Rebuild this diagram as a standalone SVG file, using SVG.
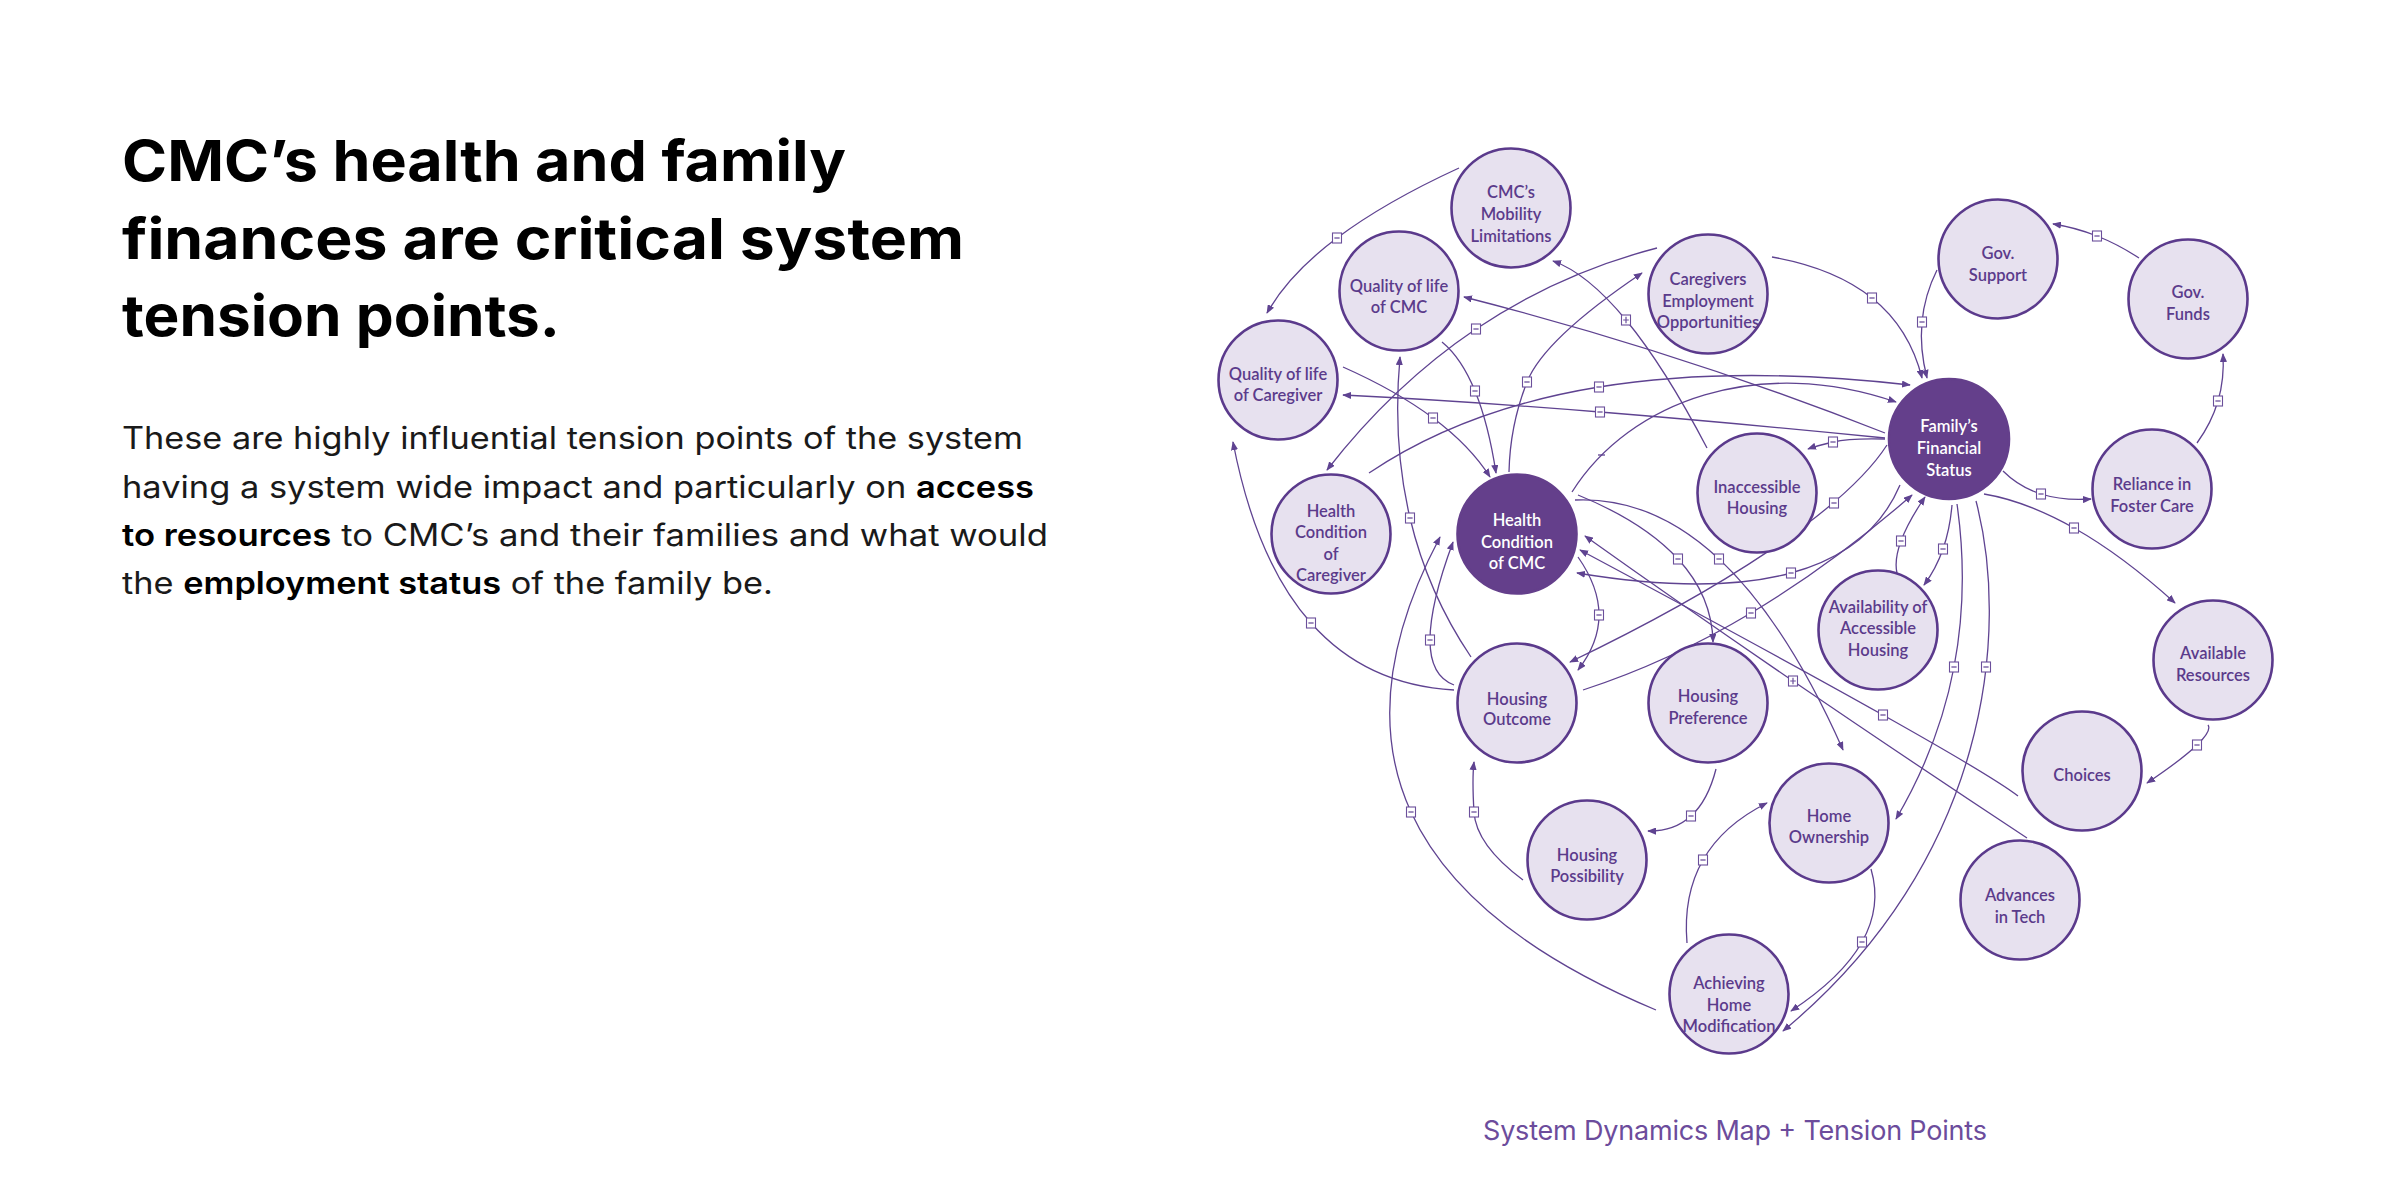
<svg xmlns="http://www.w3.org/2000/svg" width="2400" height="1200" viewBox="0 0 2400 1200">
<style>
.title{font-family:Inter,"Liberation Sans",sans-serif;font-weight:700;font-size:57px;fill:#000}
.body{font-family:Inter,"Liberation Sans",sans-serif;font-weight:400;font-size:31px;fill:#1a1a1a}
.b{font-weight:600;fill:#000}
.cap{font-family:Inter,"Liberation Sans",sans-serif;font-weight:400;font-size:27px;fill:#6c4c9c}
.edge{fill:none;stroke:#5f4391;stroke-width:1.3;marker-end:url(#ah)}
.plain{fill:none;stroke:#5f4391;stroke-width:1.3}
.node{fill:#e7e1ef;stroke:#5b3a8c;stroke-width:2.6}
.dark{fill:#643f8b;stroke:#643f8b;stroke-width:2.6}
.lbl{font-family:Lato,"Open Sans",sans-serif;font-weight:600;font-size:16.5px;fill:#5b3b8b;text-anchor:middle}
.lblw{font-family:Lato,"Open Sans",sans-serif;font-weight:600;font-size:16.5px;fill:#ffffff;text-anchor:middle}
</style>
<defs>
<marker id="ah" viewBox="0 0 10 8" refX="9" refY="4" markerWidth="9" markerHeight="7.2" markerUnits="userSpaceOnUse" orient="auto"><path d="M0,0 L10,4 L0,8 z" fill="#5f4391"/></marker>
<g id="neg"><rect x="-4.5" y="-5" width="9" height="10" fill="#fff" stroke="#6b4f9b" stroke-width="1.1"/><path d="M-2.6,0 H2.6" stroke="#6b4f9b" stroke-width="1.3"/></g>
<g id="pos"><rect x="-4.5" y="-5" width="9" height="10" fill="#fff" stroke="#6b4f9b" stroke-width="1.1"/><path d="M-2.8,0 H2.8 M0,-3.2 V3.2" stroke="#6b4f9b" stroke-width="1.2"/></g>
</defs>
<rect width="2400" height="1200" fill="#fff"/>

<g id="heading">
<text class="title" x="122" y="181" textLength="724" lengthAdjust="spacingAndGlyphs">CMC’s health and family</text>
<text class="title" x="122" y="259" textLength="842" lengthAdjust="spacingAndGlyphs">finances are critical system</text>
<text class="title" x="122" y="336" textLength="438" lengthAdjust="spacingAndGlyphs">tension points.</text>
</g>
<g id="description">
<text class="body" x="122" y="449" textLength="901" lengthAdjust="spacingAndGlyphs">These are highly influential tension points of the system</text>
<text class="body" x="122" y="497.5" textLength="912" lengthAdjust="spacingAndGlyphs">having a system wide impact and particularly on <tspan class="b">access</tspan></text>
<text class="body" x="122" y="546" textLength="926" lengthAdjust="spacingAndGlyphs"><tspan class="b">to resources</tspan> to CMC’s and their families and what would</text>
<text class="body" x="122" y="594" textLength="651" lengthAdjust="spacingAndGlyphs">the <tspan class="b">employment status</tspan> of the family be.</text>
</g>

<g id="connectors">
<path class="edge" d="M1459,168 Q1385,202 1337,238 T1267,313"/>
<path class="edge" d="M1657,248 Q1558.5,273.5 1476,329 T1327,470"/>
<path class="edge" d="M1509,472 Q1510,425 1527,382 T1642,273"/>
<path class="edge" d="M1707,448 Q1664.5,366.75 1626,320 T1553,261"/>
<path class="edge" d="M1885,433 Q1680,352 1464,297"/>
<path class="edge" d="M1343,367 Q1396,390.5 1433,418 T1490,477"/>
<path class="edge" d="M1442,342 Q1461.5,358 1475,391 T1496,473"/>
<path class="edge" d="M1885,438 Q1735.5,423 1600,412 T1343,395"/>
<path class="edge" d="M1369,473 Q1464,409 1599,387 T1910,385"/>
<path class="edge" d="M1572,492 C1630,400 1760,355 1896,402"/>
<path class="edge" d="M1471,657 Q1427.75,593 1410,518 T1400,357"/>
<path class="edge" d="M1454,690 Q1366,685 1311,623 T1233,442"/>
<path class="edge" d="M1454,685 Q1430,676 1430,640 T1453,542"/>
<path class="edge" d="M1656,1010 Q1465,930 1411,812 T1440,537"/>
<path class="edge" d="M1523,880 Q1476,845 1474,812 T1474,762"/>
<path class="edge" d="M1578,557 Q1599,587 1599,615 T1578,670"/>
<path class="edge" d="M1887,445 C1845,510 1720,590 1570,662"/>
<path class="edge" d="M1583,690 Q1669,662 1751,613 T1912,495"/>
<path class="edge" d="M1900,485 Q1872,551 1791,573 T1577,573"/>
<path class="edge" d="M1578,495 Q1644,522 1678,559 T1713,642"/>
<path class="edge" d="M1575,500 Q1652,496.5 1719,559 T1843,750"/>
<path class="edge" d="M2027,838 Q1903.5,756.5 1793,681 T1585,536"/>
<path class="edge" d="M2018,796 Q1992.5,776.5 1883,715 T1580,550"/>
<path class="edge" d="M1885,439 Q1850,438 1833,442 T1808,449"/>
<path class="edge" d="M1772,257 Q1834.5,268 1872,298 T1922,378"/>
<path class="edge" d="M1937,270 Q1924.5,295 1922,322 T1927,378"/>
<path class="edge" d="M2003,471 Q2019,487 2041,494 T2091,499"/>
<path class="edge" d="M1984,494 Q2026,501 2074,528 T2175,603"/>
<path class="edge" d="M1897,573 Q1894,560 1901,541 T1925,497"/>
<path class="edge" d="M1952,505 Q1950,529 1943,549 T1924,585"/>
<path class="edge" d="M1957,504 Q1969,588 1954,667 T1896,819"/>
<path class="edge" d="M1976,501 C2010,630 1990,860 1783,1031"/>
<path class="edge" d="M1871,869 Q1882,906.5 1862,942 T1791,1011"/>
<path class="edge" d="M1687,943 Q1683,895 1703,860 T1767,803"/>
<path class="edge" d="M1716,769 Q1708,800.5 1691,816 T1648,831"/>
<path class="edge" d="M2208,725 Q2212,730.5 2197,745 T2147,783"/>
<path class="edge" d="M2197,443 Q2211.5,423 2218,401 T2223,354"/>
<path class="edge" d="M2139,258 Q2118.5,244.5 2097,236 T2053,224"/>
<path class="plain" d="M1598,455 H1605"/>
<use href="#neg" x="1337" y="238"/>
<use href="#neg" x="1476" y="329"/>
<use href="#neg" x="1527" y="382"/>
<use href="#pos" x="1626" y="320"/>
<use href="#neg" x="1433" y="418"/>
<use href="#neg" x="1475" y="391"/>
<use href="#neg" x="1600" y="412"/>
<use href="#neg" x="1599" y="387"/>
<use href="#neg" x="1410" y="518"/>
<use href="#neg" x="1311" y="623"/>
<use href="#neg" x="1430" y="640"/>
<use href="#neg" x="1411" y="812"/>
<use href="#neg" x="1474" y="812"/>
<use href="#neg" x="1599" y="615"/>
<use href="#neg" x="1834" y="503"/>
<use href="#neg" x="1751" y="613"/>
<use href="#neg" x="1791" y="573"/>
<use href="#neg" x="1678" y="559"/>
<use href="#neg" x="1719" y="559"/>
<use href="#pos" x="1793" y="681"/>
<use href="#neg" x="1883" y="715"/>
<use href="#neg" x="1833" y="442"/>
<use href="#neg" x="1872" y="298"/>
<use href="#neg" x="1922" y="322"/>
<use href="#neg" x="2041" y="494"/>
<use href="#neg" x="2074" y="528"/>
<use href="#neg" x="1901" y="541"/>
<use href="#neg" x="1943" y="549"/>
<use href="#neg" x="1954" y="667"/>
<use href="#neg" x="1986" y="667"/>
<use href="#neg" x="1862" y="942"/>
<use href="#neg" x="1703" y="860"/>
<use href="#neg" x="1691" y="816"/>
<use href="#neg" x="2197" y="745"/>
<use href="#neg" x="2218" y="401"/>
<use href="#neg" x="2097" y="236"/>
</g>

<g id="n-mobility"><circle class="node" cx="1511" cy="208" r="59.5"/><text class="lbl" x="1511" y="198">CMC’s</text><text class="lbl" x="1511" y="220">Mobility</text><text class="lbl" x="1511" y="242">Limitations</text></g>
<g id="n-qol-cmc"><circle class="node" cx="1399" cy="291" r="59.5"/><text class="lbl" x="1399" y="292">Quality of life</text><text class="lbl" x="1399" y="313">of CMC</text></g>
<g id="n-qol-caregiver"><circle class="node" cx="1278" cy="380" r="59.5"/><text class="lbl" x="1278" y="380">Quality of life</text><text class="lbl" x="1278" y="401">of Caregiver</text></g>
<g id="n-caregiver-employment"><circle class="node" cx="1708" cy="294" r="59.5"/><text class="lbl" x="1708" y="285">Caregivers</text><text class="lbl" x="1708" y="307">Employment</text><text class="lbl" x="1708" y="328">Opportunities</text></g>
<g id="n-health-caregiver"><circle class="node" cx="1331" cy="534" r="59.5"/><text class="lbl" x="1331" y="517">Health</text><text class="lbl" x="1331" y="538">Condition</text><text class="lbl" x="1331" y="560">of</text><text class="lbl" x="1331" y="581">Caregiver</text></g>
<g id="n-health-cmc"><circle class="dark" cx="1517" cy="534" r="59.5"/><text class="lblw" x="1517" y="526">Health</text><text class="lblw" x="1517" y="547.5">Condition</text><text class="lblw" x="1517" y="569">of CMC</text></g>
<g id="n-inaccessible-housing"><circle class="node" cx="1757" cy="493" r="59.5"/><text class="lbl" x="1757" y="493">Inaccessible</text><text class="lbl" x="1757" y="514">Housing</text></g>
<g id="n-financial-status"><circle class="dark" cx="1949" cy="439" r="60"/><text class="lblw" x="1949" y="432">Family’s</text><text class="lblw" x="1949" y="454">Financial</text><text class="lblw" x="1949" y="475.5">Status</text></g>
<g id="n-gov-support"><circle class="node" cx="1998" cy="259" r="59.5"/><text class="lbl" x="1998" y="259">Gov.</text><text class="lbl" x="1998" y="280.5">Support</text></g>
<g id="n-gov-funds"><circle class="node" cx="2188" cy="299" r="59.5"/><text class="lbl" x="2188" y="298">Gov.</text><text class="lbl" x="2188" y="320">Funds</text></g>
<g id="n-foster-care"><circle class="node" cx="2152" cy="489" r="59.5"/><text class="lbl" x="2152" y="490">Reliance in</text><text class="lbl" x="2152" y="512">Foster Care</text></g>
<g id="n-availability"><circle class="node" cx="1878" cy="630" r="59.5"/><text class="lbl" x="1878" y="612.5">Availability of</text><text class="lbl" x="1878" y="634">Accessible</text><text class="lbl" x="1878" y="655.5">Housing</text></g>
<g id="n-available-resources"><circle class="node" cx="2213" cy="660" r="59.5"/><text class="lbl" x="2213" y="659">Available</text><text class="lbl" x="2213" y="681">Resources</text></g>
<g id="n-housing-outcome"><circle class="node" cx="1517" cy="703" r="59.5"/><text class="lbl" x="1517" y="705">Housing</text><text class="lbl" x="1517" y="725">Outcome</text></g>
<g id="n-housing-preference"><circle class="node" cx="1708" cy="703" r="59.5"/><text class="lbl" x="1708" y="702">Housing</text><text class="lbl" x="1708" y="724">Preference</text></g>
<g id="n-choices"><circle class="node" cx="2082" cy="771" r="59.5"/><text class="lbl" x="2082" y="781">Choices</text></g>
<g id="n-housing-possibility"><circle class="node" cx="1587" cy="860" r="59.5"/><text class="lbl" x="1587" y="861">Housing</text><text class="lbl" x="1587" y="882">Possibility</text></g>
<g id="n-home-ownership"><circle class="node" cx="1829" cy="823" r="59.5"/><text class="lbl" x="1829" y="822">Home</text><text class="lbl" x="1829" y="843">Ownership</text></g>
<g id="n-advances-tech"><circle class="node" cx="2020" cy="900" r="59.5"/><text class="lbl" x="2020" y="901">Advances</text><text class="lbl" x="2020" y="923">in Tech</text></g>
<g id="n-home-modification"><circle class="node" cx="1729" cy="994" r="59.5"/><text class="lbl" x="1729" y="989">Achieving</text><text class="lbl" x="1729" y="1011">Home</text><text class="lbl" x="1729" y="1032">Modification</text></g>

<g id="caption"><text class="cap" x="1483" y="1140" textLength="504">System Dynamics Map + Tension Points</text></g>
</svg>
